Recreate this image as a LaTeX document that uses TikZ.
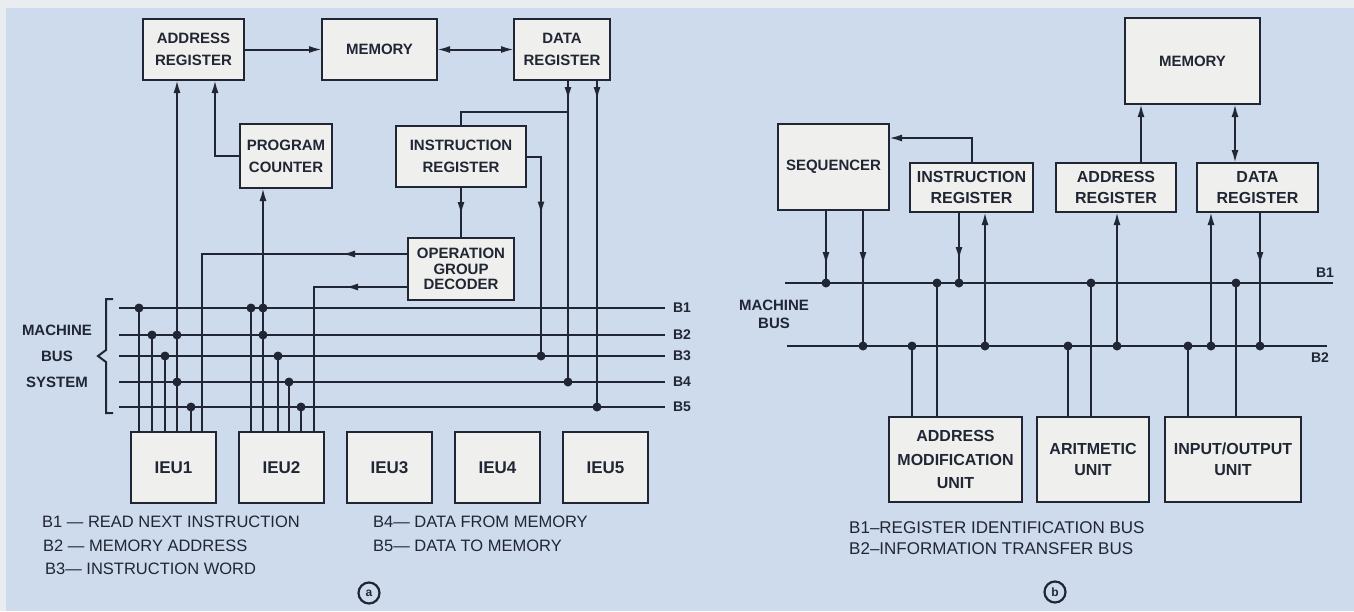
\documentclass[tikz,border=0pt]{standalone}
\usepackage{fontspec}
\setmainfont{Liberation Sans}
\usetikzlibrary{arrows.meta, positioning, decorations.markings}
\definecolor{fondo}{RGB}{205,219,236}
\definecolor{margen}{RGB}{234,237,240}
\definecolor{papel}{RGB}{239,240,237}
\definecolor{tinta}{RGB}{33,38,52}

\begin{document}
\begin{tikzpicture}[
  x=1pt, y=-1pt,
  caja/.style={rectangle, draw=tinta, line width=2.8pt, fill=papel,
    text=tinta, align=center, inner sep=0pt, outer sep=0pt,
    font=\bfseries\fontsize{15}{22}\selectfont},
  cajab/.style={caja, font=\bfseries\fontsize{16}{21}\selectfont},
  ieu/.style={caja, minimum width=85pt, minimum height=71pt,
    font=\bfseries\fontsize{17}{20}\selectfont},
  linea/.style={draw=tinta, line width=2pt},
  flecha/.style={linea, -{Latex[length=13pt,width=7pt]}},
  doble/.style={linea, {Latex[length=13pt,width=7pt]}-{Latex[length=13pt,width=7pt]}},
  medio/.style={linea, postaction={decorate}, decoration={markings,
    mark=at position #1 with {\arrow{Latex[length=13pt,width=7pt]}}}},
  punto/.style={circle, fill=tinta, inner sep=0pt, minimum size=9pt},
  etiqueta/.style={inner sep=0pt, text=tinta, font=\bfseries\fontsize{14}{16}\selectfont},
  leyenda/.style={anchor=west, inner sep=0pt, text=tinta,
    font=\fontsize{16.5}{18}\selectfont},
  circulo/.style={circle, draw=tinta, line width=2.2pt, minimum size=21pt,
    inner sep=0pt, text=tinta, font=\bfseries\fontsize{12}{12}\selectfont}
]
  \useasboundingbox (0,0) rectangle (1354,611);
  \fill[margen] (0,0) rectangle (1354,611);
  \fill[fondo] (6,8) rectangle (1354,611);

  % parte (a): bus de cinco lineas
  \node[caja, minimum width=101pt, minimum height=61pt] (regdir) at (193.5,49.5) {ADDRESS\\REGISTER};
  \node[caja, minimum width=115pt, minimum height=61pt, right=78pt of regdir] (memoria) {MEMORY};
  \node[caja, minimum width=96pt, minimum height=61pt, right=77pt of memoria] (regdat) {DATA\\REGISTER};
  \node[caja, minimum width=92pt, minimum height=64pt] (contador) at (286,156) {PROGRAM\\COUNTER};
  \node[caja, minimum width=130pt, minimum height=61pt] (reginst) at (461,156.5) {INSTRUCTION\\REGISTER};
  \node[caja, minimum width=106pt, minimum height=62pt, below=51pt of reginst,
    font=\bfseries\fontsize{15}{15.5}\selectfont] (decod) {OPERATION\\GROUP\\DECODER};

  \node[ieu] (ieu1) at (173.5,467.5) {IEU1};
  \node[ieu, right=23pt of ieu1] (ieu2) {IEU2};
  \node[ieu, right=23pt of ieu2] (ieu3) {IEU3};
  \node[ieu, right=23pt of ieu3] (ieu4) {IEU4};
  \node[ieu, right=23pt of ieu4] (ieu5) {IEU5};

  \foreach \n/\y in {1/308,2/335,3/356,4/382,5/407}
    \draw[linea] (119,\y) coordinate (bus\n) -- (665,\y) node[etiqueta, anchor=west, xshift=7pt] {B\n};

  \draw[linea] (113,299) -- (106,299) -- (106,350) -- (98,356) -- (106,362) -- (106,413) -- (113,413);
  \node[text=tinta, align=center, font=\bfseries\fontsize{15}{26}\selectfont] (sistema) at (57,356) {MACHINE\\BUS\\SYSTEM};

  \foreach \x/\n in {139/1,152/2,165/3,191/5} {
    \draw[linea] (\x,0 |- ieu1.north) -- (\x,0 |- bus\n);
    \node[punto] at (\x,0 |- bus\n) {};
  }
  \foreach \x/\n in {251/1,278/3,289/4,301/5} {
    \draw[linea] (\x,0 |- ieu2.north) -- (\x,0 |- bus\n);
    \node[punto] at (\x,0 |- bus\n) {};
  }
  \draw[flecha] (177,0 |- ieu1.north) -- (177,0 |- regdir.south);
  \node[punto] at (177,0 |- bus2) {};
  \node[punto] at (177,0 |- bus4) {};
  \draw[flecha] (263,0 |- ieu2.north) -- (263,0 |- contador.south);
  \node[punto] at (263,0 |- bus1) {};
  \node[punto] at (263,0 |- bus2) {};

  \draw[flecha] (contador.west) -| (215,0 |- regdir.south);
  \draw[flecha] (regdir) -- (memoria);
  \draw[doble] (memoria) -- (regdat);

  \draw[medio=20pt] (568,0 |- regdat.south) -- (568,0 |- bus4);
  \node[punto] at (568,0 |- bus4) {};
  \draw[medio=20pt] (597,0 |- regdat.south) -- (597,0 |- bus5);
  \node[punto] at (597,0 |- bus5) {};
  \draw[linea] (568,112) -| (reginst.north);
  \draw[medio=73pt] (reginst.east) -| (541,0 |- bus3);
  \node[punto] at (541,0 |- bus3) {};
  \draw[medio=28pt] (reginst) -- (decod);
  \draw[medio=66pt] ([yshift=15pt]decod.west) -| (202,0 |- ieu1.north);
  \draw[medio=63pt] ([yshift=-18pt]decod.west) -| (314,0 |- ieu2.north);

  \node[leyenda] at (42,522) {B1 — READ NEXT INSTRUCTION};
  \node[leyenda] at (43,546) {B2 — MEMORY ADDRESS};
  \node[leyenda] at (45,569) {B3— INSTRUCTION WORD};
  \node[leyenda] at (373,522) {B4— DATA FROM MEMORY};
  \node[leyenda] at (373,546) {B5— DATA TO MEMORY};
  \node[circulo] (circa) at (369,593) {a};

  % parte (b): bus de dos lineas
  \node[caja, minimum width=111pt, minimum height=86pt] (secuenciador) at (833.5,167) {SEQUENCER};
  \node[cajab, minimum width=123pt, minimum height=49pt] (reginstb) at (971.5,187.5) {INSTRUCTION\\REGISTER};
  \node[cajab, minimum width=120pt, minimum height=49pt, right=23pt of reginstb] (regdirb) {ADDRESS\\REGISTER};
  \node[cajab, minimum width=121pt, minimum height=49pt, right=21pt of regdirb] (regdatb) {DATA\\REGISTER};
  \node[caja, minimum width=135pt, minimum height=86pt] (memoriab) at (1192.5,61) {MEMORY};

  \node[cajab, minimum width=133pt, minimum height=85pt,
    font=\bfseries\fontsize{16}{23.5}\selectfont] (modif) at (955.5,459.5) {ADDRESS\\MODIFICATION\\UNIT};
  \node[cajab, minimum width=112pt, minimum height=85pt, right=15pt of modif] (aritm) {ARITMETIC\\UNIT};
  \node[cajab, minimum width=136pt, minimum height=85pt, right=16pt of aritm] (entsal) {INPUT/OUTPUT\\UNIT};

  \draw[linea] (785,283) coordinate (busb1) -- (1333,283);
  \draw[linea] (787,346) coordinate (busb2) -- (1327,346);
  \node[etiqueta] at (1325,273) {B1};
  \node[etiqueta] at (1320,358) {B2};
  \node[text=tinta, align=center, font=\bfseries\fontsize{15}{18}\selectfont] (maquina) at (774,314) {MACHINE\\BUS};

  \draw[flecha] (reginstb.north) |- ([yshift=29pt]secuenciador.east);
  \draw[medio=55pt] (826,0 |- secuenciador.south) -- (826,0 |- busb1);
  \node[punto] at (826,0 |- busb1) {};
  \draw[medio=55pt] (863,0 |- secuenciador.south) -- (863,0 |- busb2);
  \node[punto] at (863,0 |- busb2) {};
  \draw[medio=48pt] (959,0 |- reginstb.south) -- (959,0 |- busb1);
  \node[punto] at (959,0 |- busb1) {};
  \draw[flecha] (985,0 |- busb2) -- (985,0 |- reginstb.south);
  \node[punto] at (985,0 |- busb2) {};
  \draw[flecha] (1117,0 |- busb2) -- (1117,0 |- regdirb.south);
  \node[punto] at (1117,0 |- busb2) {};
  \draw[flecha] (1141,0 |- regdirb.north) -- (1141,0 |- memoriab.south);
  \draw[flecha] (1211,0 |- busb2) -- (1211,0 |- regdatb.south);
  \node[punto] at (1211,0 |- busb2) {};
  \draw[medio=53pt] (1260,0 |- regdatb.south) -- (1260,0 |- busb2);
  \node[punto] at (1260,0 |- busb2) {};
  \draw[doble] (1235,0 |- regdatb.north) -- (1235,0 |- memoriab.south);

  \foreach \x/\b/\u in {912/2/modif,937/1/modif,1068/2/aritm,1091/1/aritm,1188/2/entsal,1236/1/entsal} {
    \draw[linea] (\x,0 |- \u.north) -- (\x,0 |- busb\b);
    \node[punto] at (\x,0 |- busb\b) {};
  }

  \node[leyenda, font=\fontsize{17}{18}\selectfont] at (849,528) {B1--REGISTER IDENTIFICATION BUS};
  \node[leyenda, font=\fontsize{17}{18}\selectfont] at (849,549) {B2--INFORMATION TRANSFER BUS};
  \node[circulo] (circb) at (1055,592) {b};
\end{tikzpicture}
\end{document}
